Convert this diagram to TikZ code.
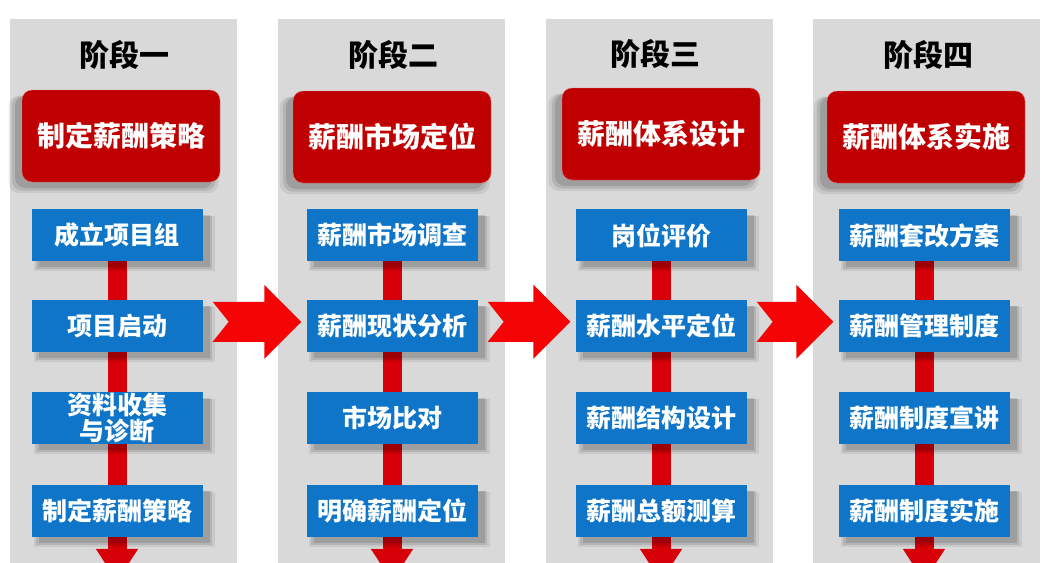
\documentclass[tikz,border=0pt]{standalone}
\usepackage{fontspec}
\setmainfont{Noto Sans CJK SC}
\usepackage{tikz}
\usetikzlibrary{
  arrows.meta,
  positioning,
  calc,
  backgrounds,
  shadows
}
\pgfdeclarelayer{panels}
\pgfsetlayers{panels,background,main}
\definecolor{panelgray}{RGB}{217,217,217}
\definecolor{stratred}{RGB}{192,0,0}
\definecolor{stepblue}{RGB}{14,117,200}
\definecolor{barred}{RGB}{215,0,8}
\definecolor{arrowred}{RGB}{244,4,4}
\newcommand{\stagearrow}[2]{%
  \fill[stagearrow] let \p1=($(#1.east)+(10,-4)$), \p2=($(#2.west)+(-5,-4)$) in
    (\x1,\y1+20pt) -- (\x2-37pt,\y1+20pt) -- (\x2-37pt,\y1+37pt) -- (\x2,\y1)
    -- (\x2-37pt,\y1-37pt) -- (\x2-37pt,\y1-20pt) -- (\x1,\y1-20pt)
    -- (\x1+16pt,\y1) -- cycle;%
}
\tikzset{
  panel/.style={
    fill=panelgray,
    anchor=north,
    minimum width=227pt,
    minimum height=560pt,
    inner sep=0pt
  },
  stagetitle/.style={font=\fontsize{30}{32}\selectfont\bfseries,text=black},
  softshadow/.style={
    general shadow={fill=black,opacity=0.07,shadow xshift=#1,shadow yshift=-8pt,shadow scale=1.06},
    general shadow={fill=black,opacity=0.10,shadow xshift=#1,shadow yshift=-7pt,shadow scale=1.03},
    general shadow={fill=black,opacity=0.12,shadow xshift=#1,shadow yshift=-6pt}
  },
  stratbox/.style={
    draw=stratred!55!white,
    fill=stratred,
    rounded corners=10pt,
    minimum width=198pt,
    minimum height=92pt,
    inner sep=0pt,
    text=white,
    font=\fontsize{28}{30}\selectfont\bfseries,
    softshadow=-7pt
  },
  stepbox/.style={
    fill=stepblue,
    minimum width=171pt,
    minimum height=52pt,
    inner sep=0pt,
    align=center,
    text=white,
    font=\fontsize{25}{26}\selectfont\bfseries,
    softshadow=7pt
  },
  stagebar/.style={draw=barred,line width=19pt,-{Triangle[length=33pt,width=40pt]}},
  stagearrow/.style={fill=arrowred},
}

\begin{document}
\begin{tikzpicture}[x=1pt,y=-1pt]
  \clip (0,0) rectangle (1059,562);
  \begin{pgfonlayer}{panels}
    \node[panel] (p1) at (123,19) {};
    \node[panel] (p2) at (391,19) {};
    \node[panel] (p3) at (659,19) {};
    \node[panel] (p4) at (926,19) {};
  \end{pgfonlayer}

  % stage 1
  \node[stagetitle] (t1) at (124,55) {阶段一};
  \node[stratbox] (r1) at (121,136) {制定薪酬策略};
  \node[stepbox,below=27pt of r1,xshift=-4pt] (b11) {成立项目组};
  \node[stepbox,below=38pt of b11] (b12) {项目启动};
  \node[stepbox,below=40pt of b12] (b13) {资料收集\\与诊断};
  \node[stepbox,below=40pt of b13] (b14) {制定薪酬策略};

  % stage 2
  \node[stagetitle] (t2) at (393,55) {阶段二};
  \node[stratbox] (r2) at (392,137) {薪酬市场定位};
  \node[stepbox,below=26pt of r2] (b21) {薪酬市场调查};
  \node[stepbox,below=38pt of b21] (b22) {薪酬现状分析};
  \node[stepbox,below=40pt of b22] (b23) {市场比对};
  \node[stepbox,below=40pt of b23] (b24) {明确薪酬定位};

  % stage 3
  \node[stagetitle] (t3) at (655,54) {阶段三};
  \node[stratbox] (r3) at (661,134) {薪酬体系设计};
  \node[stepbox,below=29pt of r3] (b31) {岗位评价};
  \node[stepbox,below=38pt of b31] (b32) {薪酬水平定位};
  \node[stepbox,below=40pt of b32] (b33) {薪酬结构设计};
  \node[stepbox,below=40pt of b33] (b34) {薪酬总额测算};

  % stage 4
  \node[stagetitle] (t4) at (928,55) {阶段四};
  \node[stratbox] (r4) at (926,137) {薪酬体系实施};
  \node[stepbox,below=26pt of r4,xshift=-2pt] (b41) {薪酬套改方案};
  \node[stepbox,below=38pt of b41] (b42) {薪酬管理制度};
  \node[stepbox,below=40pt of b42] (b43) {薪酬制度宣讲};
  \node[stepbox,below=40pt of b43] (b44) {薪酬制度实施};

  \begin{pgfonlayer}{background}
    \draw[stagebar] (b11.center) -- ($(b14.south)+(0,45)$);
    \draw[stagebar] (b21.center) -- ($(b24.south)+(0,45)$);
    \draw[stagebar] (b31.center) -- ($(b34.south)+(0,45)$);
    \draw[stagebar] (b41.center) -- ($(b44.south)+(0,45)$);
  \end{pgfonlayer}

  \stagearrow{b12}{b22}
  \stagearrow{b22}{b32}
  \stagearrow{b32}{b42}
\end{tikzpicture}
\end{document}
